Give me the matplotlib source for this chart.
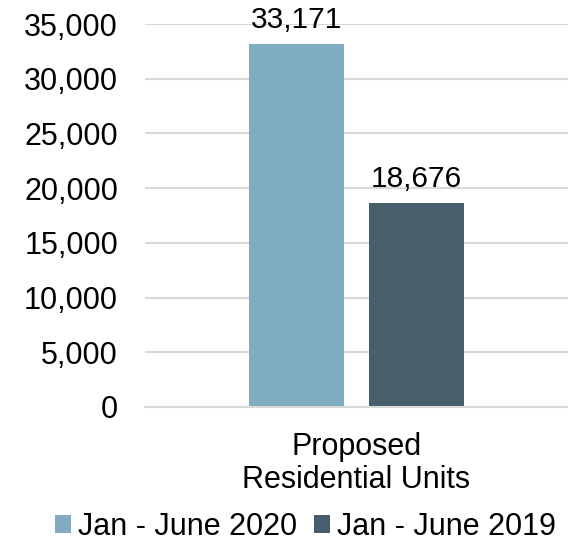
import matplotlib.pyplot as plt
from matplotlib.ticker import FuncFormatter

plt.rcParams["font.family"] = ["Liberation Sans", "DejaVu Sans"]

categories = ["Proposed\nResidential Units"]
series_names = ["Jan - June 2020", "Jan - June 2019"]
values_2020 = [33171]
values_2019 = [18676]
colors = ["#7facc1", "#465f6b"]

fig = plt.figure(figsize=(5.68, 5.47), dpi=100)
ax = fig.add_axes([145 / 568, 1 - 407 / 547, 423 / 568, 383 / 547])

width = 0.225
offset = 0.141
x = list(range(len(categories)))
b1 = ax.bar([i - offset for i in x], values_2020, width, color=colors[0], label=series_names[0], zorder=2)
b2 = ax.bar([i + offset for i in x], values_2019, width, color=colors[1], label=series_names[1], zorder=2)

for bars in (b1, b2):
    for rect in bars:
        ax.annotate(f"{int(rect.get_height()):,}",
                    (rect.get_x() + rect.get_width() / 2, rect.get_height()),
                    xytext=(0, 7), textcoords="offset points",
                    ha="center", va="bottom", fontsize=21.5)

ax.set_xlim(-0.5, 0.5)
ax.set_ylim(0, 35000)
ax.set_yticks(range(0, 35001, 5000))
ax.yaxis.set_major_formatter(FuncFormatter(lambda v, p: f"{int(v):,}"))
ax.set_xticks(x)
ax.set_xticklabels(categories, fontsize=22, linespacing=1.15)
ax.tick_params(axis="both", length=0, labelsize=22)
ax.tick_params(axis="y", pad=19.5)
ax.tick_params(axis="x", pad=18)

ax.yaxis.grid(True, color="#d9d9d9", linewidth=1.5, zorder=0)
for side in ["top", "right", "left"]:
    ax.spines[side].set_visible(False)
ax.spines["bottom"].set_color("#d9d9d9")
ax.spines["bottom"].set_linewidth(1.5)

ax.legend(loc="center", bbox_to_anchor=(0.379, -0.313), ncol=2, frameon=False,
          fontsize=22, handlelength=0.52, handleheight=0.52, handletextpad=0.23,
          columnspacing=0.55, borderaxespad=0)

fig.savefig("out.png", dpi=100)
